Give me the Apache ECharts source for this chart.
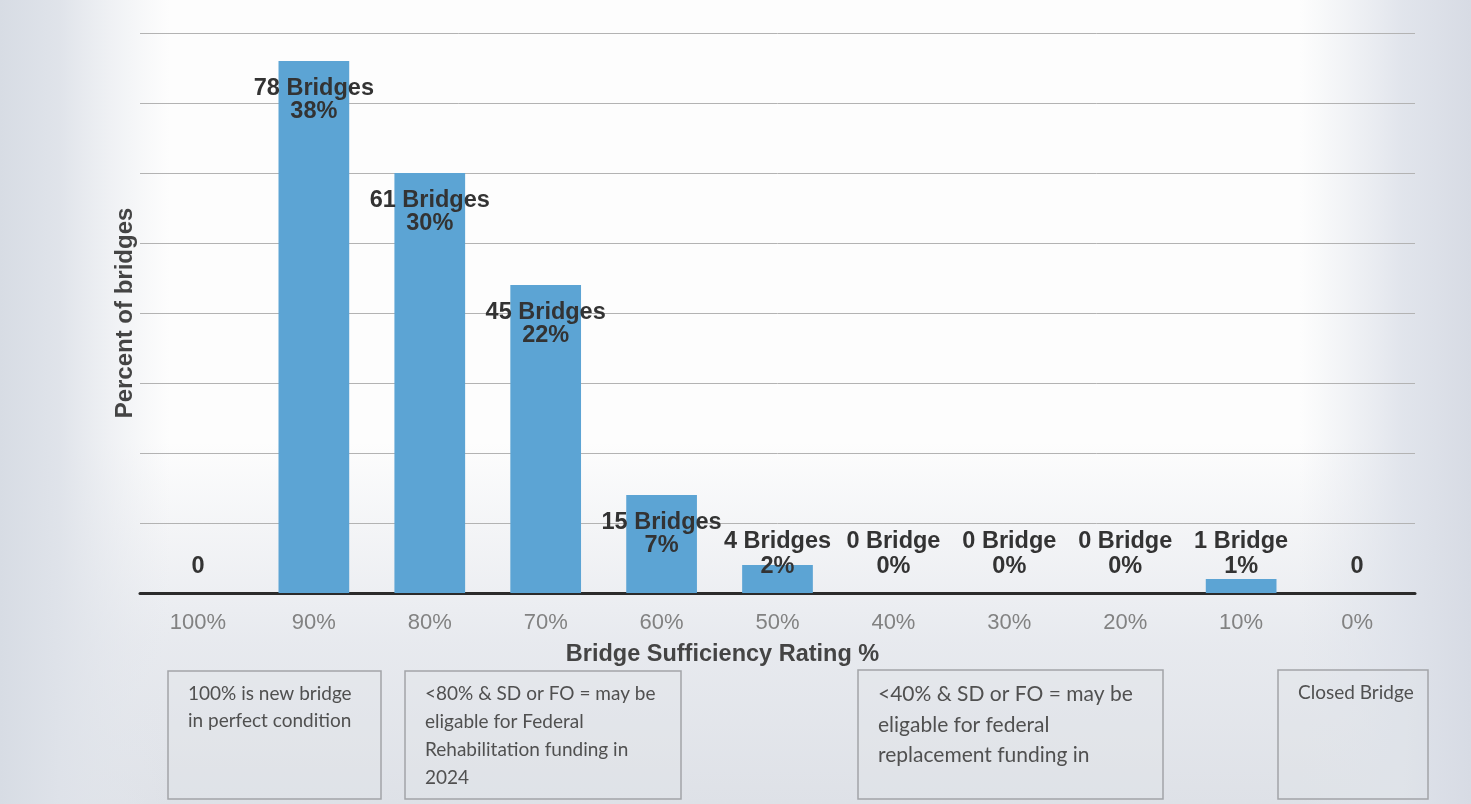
<!DOCTYPE html>
<html>
<head>
<meta charset="utf-8">
<script src="https://cdn.jsdelivr.net/npm/echarts@6/dist/echarts.min.js"></script>
<style>
  html, body { margin: 0; padding: 0; }
  #chart { width: 1471px; height: 804px; }
</style>
</head>
<body>
<div id="chart"></div>
<script>
// bridge sufficiency rating buckets
const categories = ['100%', '90%', '80%', '70%', '60%', '50%', '40%', '30%', '20%', '10%', '0%'];
const percentValues = [0, 38, 30, 22, 7, 2, 0, 0, 0, 1, 0];
const countLabels = ['0', '78 Bridges', '61 Bridges', '45 Bridges', '15 Bridges', '4 Bridges', '0 Bridge', '0 Bridge', '0 Bridge', '1 Bridge', '0'];
const percentLabels = ['', '38%', '30%', '22%', '7%', '2%', '0%', '0%', '0%', '1%', ''];

const noteBoxes = [
    { x: 168, y: 671, w: 213, h: 128, size: 19, lh: 27, text: '100% is new bridge\nin perfect condition' },
    { x: 405, y: 671, w: 276, h: 128, size: 19, lh: 28, text: '<80% & SD or FO = may be\neligable for Federal\nRehabilitation funding in\n2024' },
    { x: 858, y: 670, w: 305, h: 129, size: 21, lh: 30.5, text: '<40% & SD or FO = may be\neligable for federal\nreplacement funding in' },
    { x: 1278, y: 670, w: 150, h: 129, size: 19, lh: 27, text: 'Closed Bridge' }
];

const chart = echarts.init(document.getElementById('chart'));

const barData = percentValues.map((v, i) => {
    const txt = percentLabels[i] ? countLabels[i] + '\n' + percentLabels[i] : countLabels[i];
    const big = v >= 5;
    return {
        value: v,
        label: {
            position: big ? 'insideTop' : 'insideBottom',
            distance: big ? 16 : 14,
            lineHeight: big ? 23 : 25,
            formatter: txt
        }
    };
});

// scanned-paper look: white middle, greyish edges
const graphics = [
    {
        type: 'rect', z: -10, silent: true,
        shape: { x: 0, y: 0, width: 1471, height: 804 },
        style: { fill: '#fdfdfd' }
    },
    {
        type: 'rect', z: -9, silent: true,
        shape: { x: 0, y: 0, width: 1471, height: 804 },
        style: {
            fill: new echarts.graphic.LinearGradient(0, 0, 0, 1, [
                { offset: 0, color: 'rgba(226,229,235,0)' },
                { offset: 0.55, color: 'rgba(226,229,235,0)' },
                { offset: 0.8, color: 'rgba(226,229,235,0.8)' },
                { offset: 1, color: 'rgba(222,225,231,1)' }
            ])
        }
    },
    {
        type: 'rect', z: -9, silent: true,
        shape: { x: 0, y: 0, width: 170, height: 804 },
        style: {
            fill: new echarts.graphic.LinearGradient(0, 0, 1, 0, [
                { offset: 0, color: 'rgba(215,220,228,1)' },
                { offset: 0.35, color: 'rgba(222,226,233,0.95)' },
                { offset: 1, color: 'rgba(230,233,238,0)' }
            ])
        }
    },
    {
        type: 'rect', z: -9, silent: true,
        shape: { x: 1300, y: 0, width: 171, height: 804 },
        style: {
            fill: new echarts.graphic.LinearGradient(0, 0, 1, 0, [
                { offset: 0, color: 'rgba(225,229,236,0)' },
                { offset: 0.6, color: 'rgba(222,226,234,0.9)' },
                { offset: 1, color: 'rgba(215,219,228,1)' }
            ])
        }
    }
];

noteBoxes.forEach((b) => {
    graphics.push({
        type: 'rect',
        silent: true,
        shape: { x: b.x, y: b.y, width: b.w, height: b.h },
        style: { fill: 'rgba(225,228,233,0.3)', stroke: '#a2a4a8', lineWidth: 1.5 }
    });
    graphics.push({
        type: 'text',
        silent: true,
        x: b.x + 20,
        y: b.y + 9,
        style: {
            text: b.text,
            font: b.size + 'px Lato',
            lineHeight: b.lh,
            fill: '#505050'
        }
    });
});

const option = {
    animation: false,
    grid: { left: 140, right: 56, top: 33, bottom: 211 },
    graphic: graphics,
    xAxis: {
        type: 'category',
        data: categories,
        name: 'Bridge Sufficiency Rating %',
        nameLocation: 'middle',
        nameGap: 50,
        nameTextStyle: {
            fontFamily: 'Liberation Sans', fontSize: 23.5, fontWeight: 'bold', color: '#444',
            padding: [0, 110, 0, 0]
        },
        axisLine: { lineStyle: { color: '#2b2b2b', width: 3 } },
        axisTick: { show: false },
        axisLabel: { fontFamily: 'Liberation Sans', fontSize: 22, color: '#828282', margin: 19 }
    },
    yAxis: {
        type: 'value',
        min: 0,
        max: 40,
        interval: 5,
        name: 'Percent of bridges',
        nameLocation: 'middle',
        nameRotate: 90,
        nameGap: 3,
        nameTextStyle: { fontFamily: 'Liberation Sans', fontSize: 24, fontWeight: 'bold', color: '#444' },
        axisLine: { show: false },
        axisTick: { show: false },
        axisLabel: { show: false },
        splitLine: { lineStyle: { color: '#b3b3b3', width: 1 } }
    },
    series: [
        {
            type: 'bar',
            data: barData,
            barWidth: '61%',
            itemStyle: { color: '#5ca4d4' },
            label: {
                show: true,
                fontFamily: 'Liberation Sans',
                fontSize: 23.5,
                fontWeight: 'bold',
                color: '#333',
                textBorderWidth: 0
            }
        }
    ]
};

chart.setOption(option);
</script>
</body>
</html>
